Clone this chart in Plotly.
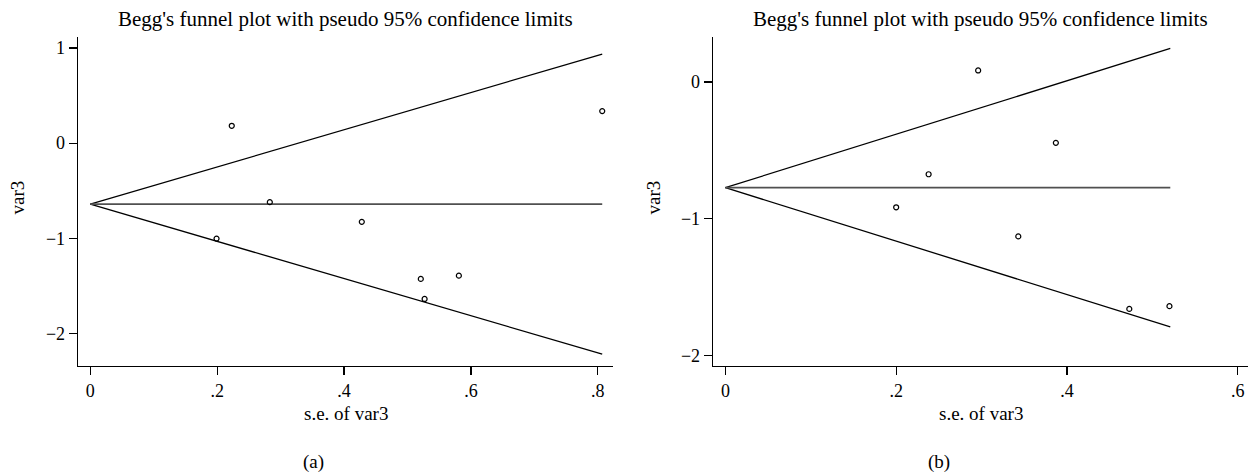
import plotly.graph_objects as go

# ---- data ----
# panel (a)
se_a = [0.199, 0.223, 0.283, 0.428, 0.521, 0.527, 0.581, 0.807]
es_a = [-1.004, 0.182, -0.621, -0.828, -1.428, -1.639, -1.394, 0.337]
funnel_x_a = [0.0, 0.807]
upper_a = [-0.642, 0.937]
lower_a = [-0.642, -2.220]
pooled_a = [-0.642, -0.642]

# panel (b)
se_b = [0.200, 0.238, 0.296, 0.343, 0.387, 0.473, 0.520]
es_b = [-0.917, -0.675, 0.085, -1.130, -0.445, -1.661, -1.641]
funnel_x_b = [0.0, 0.521]
upper_b = [-0.773, 0.246]
lower_b = [-0.773, -1.793]
pooled_b = [-0.773, -0.773]

xtick_vals_a = [0, 0.2, 0.4, 0.6, 0.8]
xtick_text_a = ["0", ".2", ".4", ".6", ".8"]
xtick_vals_b = [0, 0.2, 0.4, 0.6]
xtick_text_b = ["0", ".2", ".4", ".6"]
ytick_vals_a = [-2, -1, 0, 1]
ytick_vals_b = [-2, -1, 0]

title_text = "Begg's funnel plot with pseudo 95% confidence limits"
xlabel = "s.e. of var3"
ylabel = "var3"
panel_labels = ["(a)", "(b)"]

FONT = "Liberation Serif"
W, H = 1252, 475

# plot areas in pixels
A = dict(x0=78, x1=613, y0=37, y1=366)
B = dict(x0=713, x1=1248, y0=37, y1=366)


def px_dom(a):
    return [a["x0"] / W, a["x1"] / W], [1 - a["y1"] / H, 1 - a["y0"] / H]


fig = go.Figure()


def add_panel(xa, ya, fx, up, lo, po, se, es):
    line_k = dict(color="black", width=1.3)
    fig.add_trace(go.Scatter(x=fx, y=up, mode="lines", line=line_k, xaxis=xa, yaxis=ya, showlegend=False))
    fig.add_trace(go.Scatter(x=fx, y=lo, mode="lines", line=line_k, xaxis=xa, yaxis=ya, showlegend=False))
    fig.add_trace(go.Scatter(x=fx, y=po, mode="lines", line=dict(color="#505050", width=1.8),
                             xaxis=xa, yaxis=ya, showlegend=False))
    fig.add_trace(go.Scatter(x=se, y=es, mode="markers",
                             marker=dict(symbol="circle-open", size=5, color="black", line=dict(width=1.2)),
                             xaxis=xa, yaxis=ya, showlegend=False))


add_panel("x", "y", funnel_x_a, upper_a, lower_a, pooled_a, se_a, es_a)
add_panel("x2", "y2", funnel_x_b, upper_b, lower_b, pooled_b, se_b, es_b)

axis_common = dict(showline=True, linecolor="black", linewidth=1.3, ticks="outside", ticklen=8,
                   tickwidth=1.2, tickcolor="black", showgrid=False, zeroline=False, mirror=False,
                   tickfont=dict(family=FONT, size=18, color="black"))

dxa, dya = px_dom(A)
dxb, dyb = px_dom(B)

fig.update_layout(
    width=W, height=H,
    margin=dict(l=0, r=0, t=0, b=0),
    paper_bgcolor="white", plot_bgcolor="white",
    hovermode=False,
    xaxis=dict(domain=dxa, range=[-0.0194, 0.824], tickvals=xtick_vals_a, ticktext=xtick_text_a,
               anchor="y", **axis_common),
    yaxis=dict(domain=dya, range=[-2.344, 1.116], tickvals=ytick_vals_a, anchor="x", **axis_common),
    xaxis2=dict(domain=dxb, range=[-0.0145, 0.612], tickvals=xtick_vals_b, ticktext=xtick_text_b,
                anchor="y2", **axis_common),
    yaxis2=dict(domain=dyb, range=[-2.079, 0.330], tickvals=ytick_vals_b, anchor="x2", **axis_common),
)


def ann(text, xp, yp, size, angle=0):
    fig.add_annotation(text=text, x=xp / W, y=1 - yp / H, xref="paper", yref="paper",
                       showarrow=False, textangle=angle, xanchor="center", yanchor="middle",
                       font=dict(family=FONT, size=size, color="black"))


for P, lab, half_c, ylab_x in [(A, panel_labels[0], 313, 17), (B, panel_labels[1], 939, 653)]:
    cx = (P["x0"] + P["x1"]) / 2
    ann(title_text, cx, 19, 21)
    ann(xlabel, cx, 413, 19)
    ann(lab, half_c, 462, 19)
    ann(ylabel, ylab_x, (P["y0"] + P["y1"]) / 2 - 4, 19, angle=-90)

fig.write_html("out.html",
               config={"displayModeBar": False, "staticPlot": True},
               post_script="document.body.style.margin='0';document.body.style.overflow='hidden';")
